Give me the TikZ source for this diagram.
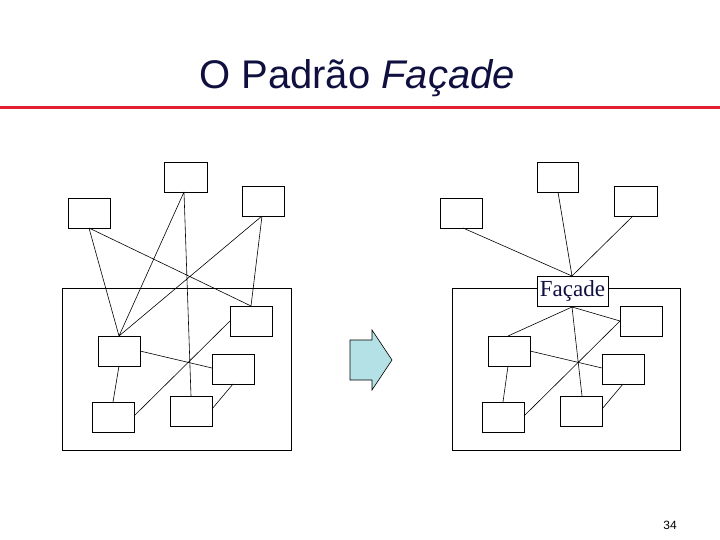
\documentclass[tikz,border=0pt]{standalone}
\usepackage{fontspec}
\setmainfont{Liberation Serif}
\newfontfamily\arial{Liberation Sans}
\definecolor{navy}{RGB}{16,16,64}
\definecolor{redl}{RGB}{225,30,50}
\definecolor{cyanf}{RGB}{180,225,230}
\begin{document}
\begin{tikzpicture}[x=1pt,y=-1pt,
  bx/.style={draw,line width=0.8pt,fill=white},
  ln/.style={line width=0.6pt}]
\useasboundingbox (0,0) rectangle (720,540);
\node[font=\arial\fontsize{40}{44}\selectfont,text=navy] (title) at (357,78) {O Padrão \textit{Façade}};
\coordinate (rl) at (0,108); \coordinate (rr) at (720,108);
\draw[redl,line width=3pt] (rl) -- (rr);
% left
\draw[line width=0.8pt] (62,288) rectangle (291,450);
\path[bx] (164,162) rectangle coordinate (A) (207,192);
\path[bx] (68,198) rectangle coordinate (B) (110,228);
\path[bx] (242,186) rectangle coordinate (C) (284,216);
\path[bx] (230,306) rectangle coordinate (D) (272,336);
\path[bx] (98,336) rectangle coordinate (E) (140,366);
\path[bx] (212,354) rectangle coordinate (F) (254,384);
\path[bx] (170,396) rectangle coordinate (H) (212,426);
\path[bx] (92,402) rectangle coordinate (G) (134,432);
\coordinate (Ab) at (184,192); \coordinate (Bb) at (89,228); \coordinate (Cb) at (262,216);
\coordinate (Et) at (119,336); \coordinate (Dt) at (251,306); \coordinate (Ht) at (191,396);
\coordinate (Eb) at (119,366); \coordinate (Gt) at (113,402); \coordinate (Gr) at (134,416);
\coordinate (Dl) at (230,321); \coordinate (Er) at (140,351); \coordinate (Fl) at (212,368);
\coordinate (Hr) at (212,409); \coordinate (Fb) at (233,384);
\draw[ln] (Bb)--(Et) (Ab)--(Et) (Cb)--(Et) (Bb)--(Dt) (Cb)--(Dt) (Ab)--(Ht)
  (Eb)--(Gt) (Gr)--(Dl) (Er)--(Fl) (Hr)--(Fb);
% arrow
\coordinate (p1) at (350,340);
\draw[line width=0.6pt,fill=cyanf] (p1) -- (372,340) -- (372,330) -- (392,360) -- (372,390) -- (372,380) -- (350,380) -- cycle;
% right
\draw[line width=0.8pt] (452,288) rectangle (680,450);
\path[bx] (537,162) rectangle coordinate (A2) (578,192);
\path[bx] (440,198) rectangle coordinate (B2) (482,228);
\path[bx] (614,186) rectangle coordinate (C2) (657,216);
\path[bx] (620,306) rectangle coordinate (D2) (662,336);
\path[bx] (488,336) rectangle coordinate (E2) (530,366);
\path[bx] (602,354) rectangle coordinate (F2) (644,384);
\path[bx] (560,396) rectangle coordinate (H2) (602,426);
\path[bx] (482,402) rectangle coordinate (G2) (524,432);
\node[draw,line width=0.8pt,fill=white,minimum width=71pt,minimum height=30pt,inner sep=0pt,
  font=\fontsize{23}{25}\selectfont,text=navy] (fa) at (572.5,291) {Façade};
\coordinate (Fat) at (572,276); \coordinate (Fab) at (572,307);
\coordinate (A2b) at (558,192); \coordinate (B2b) at (463,228); \coordinate (C2b) at (633,216);
\coordinate (D2l) at (620,321); \coordinate (E2t) at (508,336); \coordinate (H2t) at (582,396);
\coordinate (E2r) at (530,351); \coordinate (F2l) at (602,368); \coordinate (E2b) at (508,366);
\coordinate (G2t) at (503,402); \coordinate (G2r) at (524,416); \coordinate (H2r) at (602,409);
\coordinate (F2b) at (623,384);
\draw[ln] (B2b)--(Fat) (A2b)--(Fat) (C2b)--(Fat) (Fab)--(D2l) (Fab)--(E2t) (Fab)--(H2t)
  (E2r)--(F2l) (E2b)--(G2t) (G2r)--(D2l) (H2r)--(F2b);
\node[font=\arial\fontsize{12}{14}\selectfont] (pg) at (670,525) {34};
\end{tikzpicture}
\end{document}
